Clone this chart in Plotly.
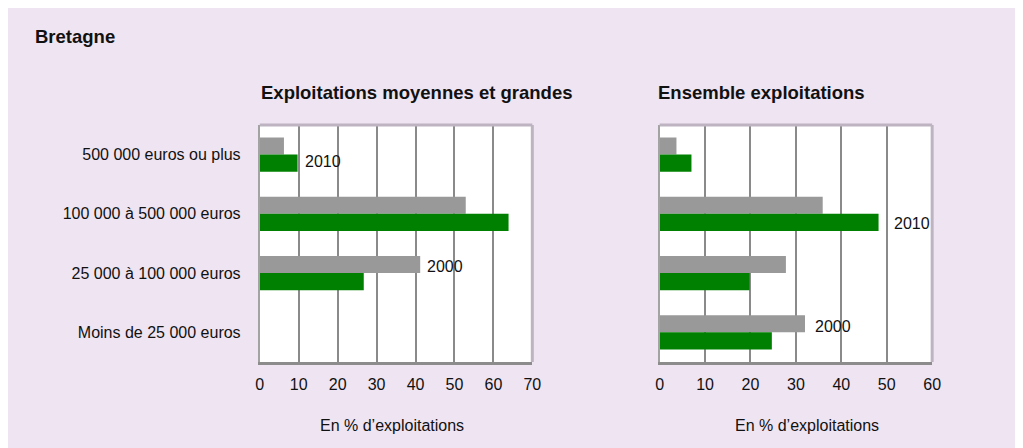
import plotly.graph_objects as go

categories = ["500 000 euros ou plus", "100 000 à 500 000 euros",
              "25 000 à 100 000 euros", "Moins de 25 000 euros"]

# Exploitations moyennes et grandes (%)
mg_2000 = [6.2, 52.9, 41.2, None]
mg_2010 = [9.7, 63.9, 26.7, None]

# Ensemble exploitations (%)
all_2000 = [3.7, 35.9, 27.8, 32.0]
all_2010 = [7.0, 48.2, 19.8, 24.7]

left_ticks = [0, 10, 20, 30, 40, 50, 60, 70]
right_ticks = [0, 10, 20, 30, 40, 50, 60]

GRAY = "#999999"
GREEN = "#008000"
PINK = "#efe4f1"
FONT = "Liberation Sans, Arial, sans-serif"

W, H = 1023, 448
OFF = 8  # page body margin


def px_x(p):
    return (p - OFF) / W


def px_y(p):
    return 1 - (p - OFF) / H


fig = go.Figure()
fig.add_trace(go.Bar(x=mg_2000, y=categories, orientation="h", marker_color=GRAY,
                     marker_line_width=0, xaxis="x", yaxis="y", name="2000", showlegend=False))
fig.add_trace(go.Bar(x=mg_2010, y=categories, orientation="h", marker_color=GREEN,
                     marker_line_width=0, xaxis="x", yaxis="y", name="2010", showlegend=False))
fig.add_trace(go.Bar(x=all_2000, y=categories, orientation="h", marker_color=GRAY,
                     marker_line_width=0, xaxis="x2", yaxis="y2", name="2000", showlegend=False))
fig.add_trace(go.Bar(x=all_2010, y=categories, orientation="h", marker_color=GREEN,
                     marker_line_width=0, xaxis="x2", yaxis="y2", name="2010", showlegend=False))

ydom = [px_y(362), px_y(125)]
xaxis_common = dict(showgrid=True, gridcolor="#8a8a8a", gridwidth=2, zeroline=False,
                    showline=True, linecolor="#8c8c8c", linewidth=3,
                    ticks="outside", ticklen=6, tickcolor="rgba(0,0,0,0)",
                    tickfont=dict(family=FONT, size=16, color="#111111"), fixedrange=True)
yaxis_common = dict(categoryorder="array", categoryarray=categories, autorange="reversed",
                    showgrid=False, zeroline=False, showline=True, linecolor="#a3a3a3",
                    linewidth=2, domain=ydom, fixedrange=True)

fig.update_layout(
    width=W, height=H,
    margin=dict(l=0, r=0, t=0, b=0),
    paper_bgcolor=PINK, plot_bgcolor="white",
    barmode="group", bargap=0.42, bargroupgap=0,
    font=dict(family=FONT, size=16, color="#111111"),
    xaxis=dict(domain=[px_x(259), px_x(535)], range=[0, 70], tickvals=left_ticks,
               anchor="y", **xaxis_common),
    xaxis2=dict(domain=[px_x(664), px_x(940)], range=[0, 60], tickvals=right_ticks,
                anchor="y2", **xaxis_common),
    yaxis=dict(anchor="x", ticks="outside", ticklen=14, tickcolor="rgba(0,0,0,0)",
               tickfont=dict(family=FONT, size=16, color="#111111"), **yaxis_common),
    yaxis2=dict(anchor="x2", showticklabels=False, **yaxis_common),
)

# frame top and right edges
for xr, yr in (("x domain", "y domain"), ("x2 domain", "y2 domain")):
    fig.add_shape(type="line", xref=xr, yref=yr, x0=0, x1=1, y0=1, y1=1,
                  line=dict(color="#bdb3c1", width=3))
    fig.add_shape(type="line", xref=xr, yref=yr, x0=1, x1=1, y0=0, y1=1,
                  line=dict(color="#bdb3c1", width=3))

# texts
BOLD = 18.5
fig.add_annotation(text="<b>Bretagne</b>", xref="paper", yref="paper", x=px_x(29), y=px_y(36),
                   xanchor="left", yanchor="middle", showarrow=False,
                   font=dict(family=FONT, size=BOLD, color="#111111"))
fig.add_annotation(text="<b>Exploitations moyennes et grandes</b>", xref="paper", yref="paper",
                   x=px_x(258), y=px_y(93), xanchor="left", yanchor="middle", showarrow=False,
                   font=dict(family=FONT, size=BOLD, color="#111111"))
fig.add_annotation(text="<b>Ensemble exploitations</b>", xref="paper", yref="paper",
                   x=px_x(660), y=px_y(93), xanchor="left", yanchor="middle", showarrow=False,
                   font=dict(family=FONT, size=BOLD, color="#111111"))
for cx in (393, 813):
    fig.add_annotation(text="En % d’exploitations", xref="paper", yref="paper",
                       x=px_x(cx), y=px_y(425), xanchor="center", yanchor="middle",
                       showarrow=False, font=dict(family=FONT, size=16, color="#111111"))

# year labels next to bars
lab = dict(showarrow=False, xanchor="left", yanchor="middle",
           font=dict(family=FONT, size=16, color="#111111"))
fig.add_annotation(text="2010", x=mg_2010[0], y=categories[0], xref="x", yref="y",
                   xshift=5, yshift=-7, **lab)
fig.add_annotation(text="2000", x=mg_2000[2], y=categories[2], xref="x", yref="y",
                   xshift=5, yshift=7, **lab)
fig.add_annotation(text="2010", x=all_2010[1], y=categories[1], xref="x2", yref="y2",
                   xshift=13, yshift=-10, **lab)
fig.add_annotation(text="2000", x=all_2000[3], y=categories[3], xref="x2", yref="y2",
                   xshift=8, yshift=6, **lab)

fig.write_html("out.html")
